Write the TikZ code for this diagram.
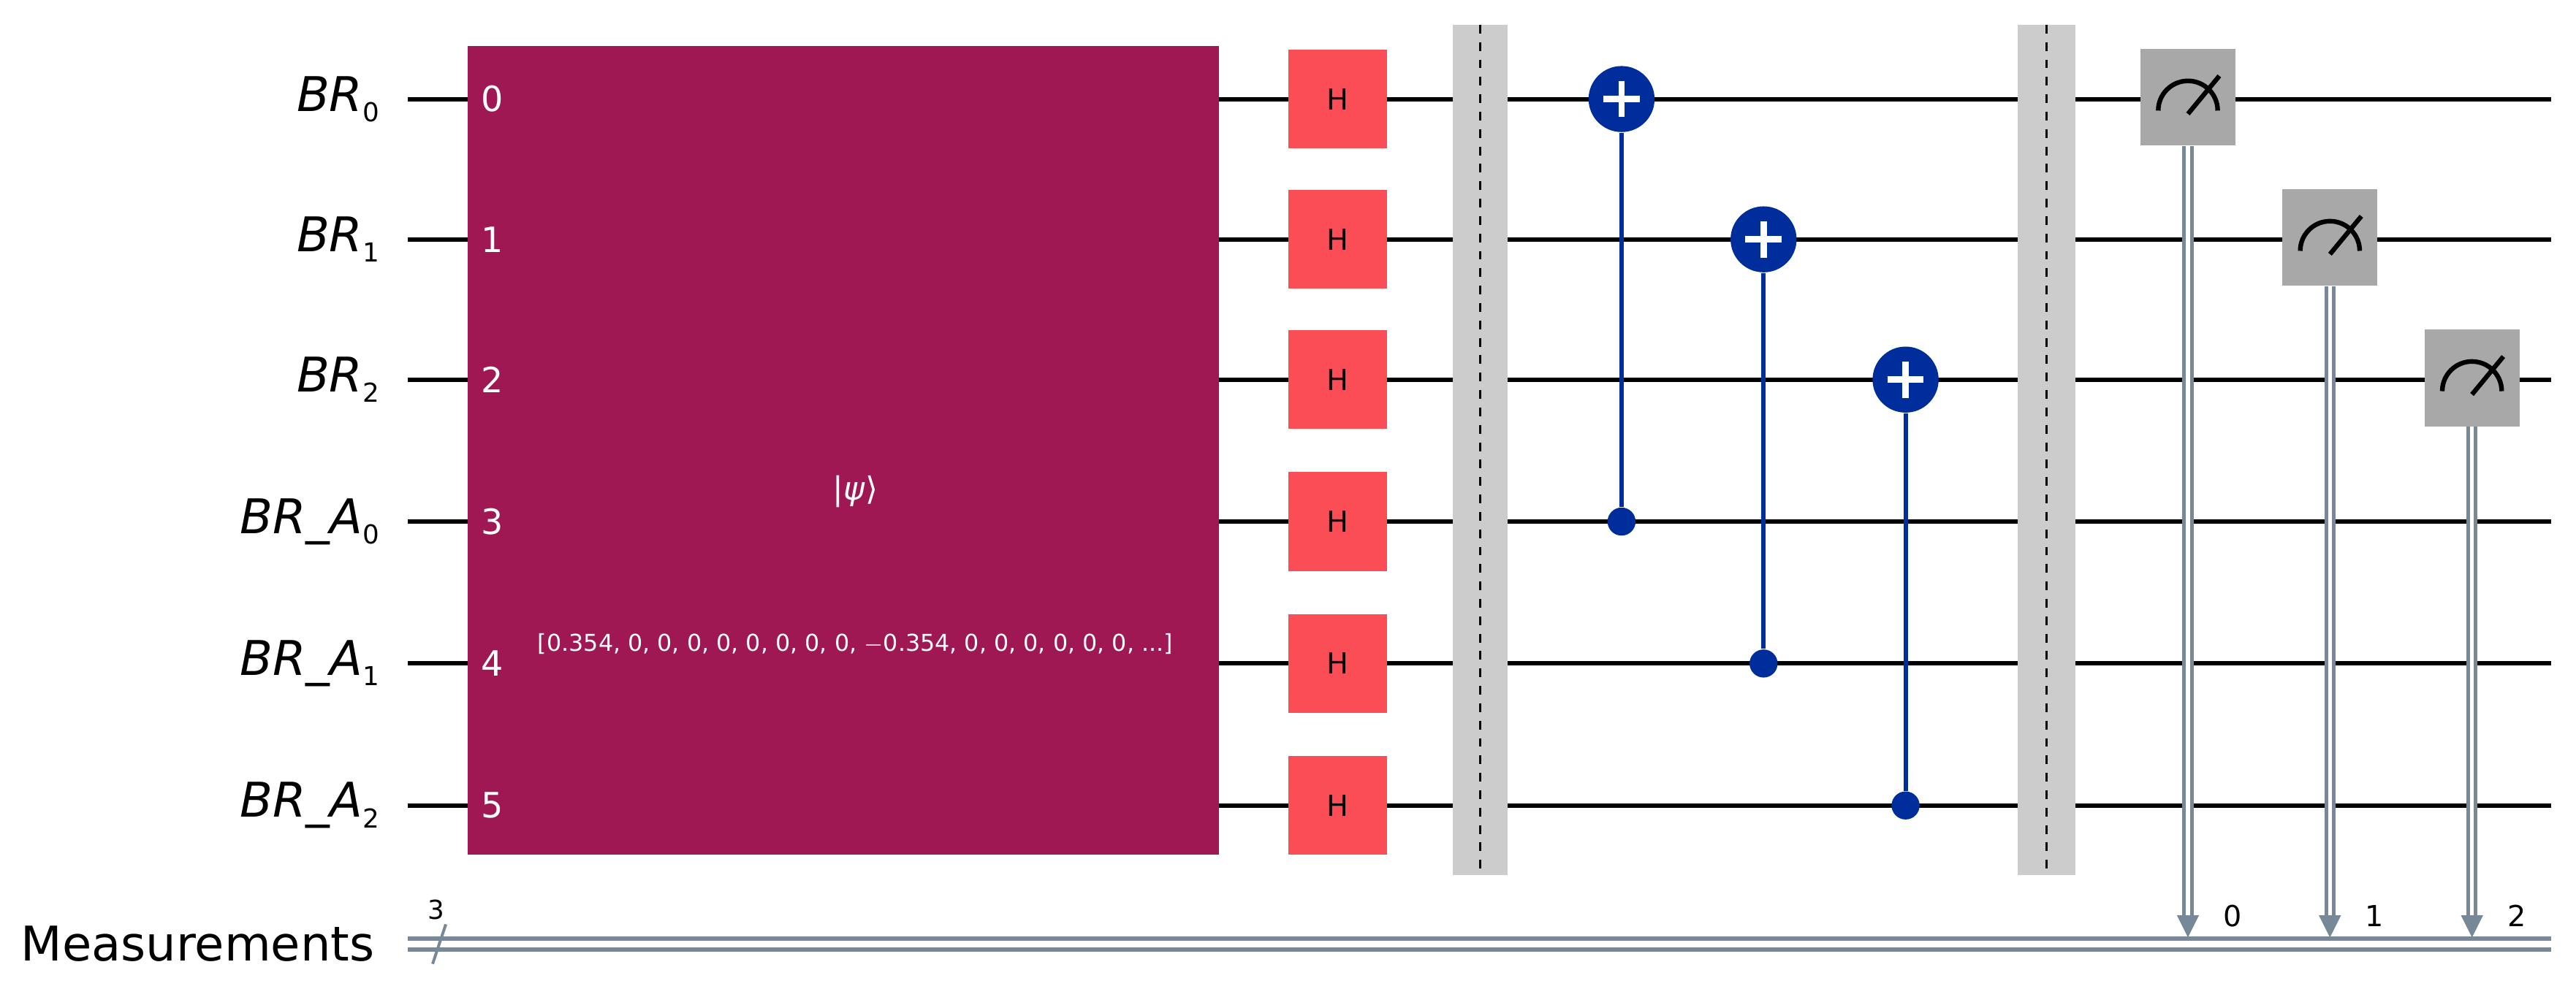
\documentclass[tikz,border=0pt]{standalone}
\usepackage{fontspec}
\setmainfont{DejaVu Sans}
\usetikzlibrary{positioning,calc,arrows.meta}
\definecolor{prepcol}{HTML}{9F1853}
\definecolor{hcol}{HTML}{FA4D56}
\definecolor{cxcol}{HTML}{002D9C}
\definecolor{meascol}{HTML}{A8A8A8}
\definecolor{barcol}{HTML}{CCCCCC}
\definecolor{clcol}{HTML}{778899}
\newcommand{\qlab}[2]{\textit{#1}\raisebox{-0.4ex}{\small #2}}

\begin{document}
\begin{tikzpicture}[x=0.02cm, y=-0.02cm,
  wire/.style={line width=1.5pt, black},
  label/.style={anchor=east, font=\fontsize{16.5}{18}\selectfont},
  hgate/.style={rectangle, fill=hcol, minimum width=1.2cm, minimum height=1.2cm, inner sep=0pt, font=\fontsize{10}{12}\selectfont},
  meas/.style={rectangle, fill=meascol, minimum width=1.15cm, minimum height=1.17cm, inner sep=0pt},
  barrier/.style={fill=barcol, draw=none},
  ctrl/.style={circle, fill=cxcol, minimum size=0.34cm, inner sep=0pt},
  targ/.style={circle, fill=cxcol, minimum size=0.8cm, inner sep=0pt},
  cline/.style={draw=clcol, double=white, double distance=1.3pt, line width=1.3pt},
  bitlab/.style={font=\fontsize{10}{12}\selectfont}]

\useasboundingbox (0,0) rectangle (1560,599);

% WIRES

\foreach \i/\y in {0/60,1/145,2/230,3/316,4/402,5/488} {
  \coordinate (w\i) at (247,\y);
  \coordinate (e\i) at (1545,\y);
  \draw[wire] (w\i) -- (e\i);
}

\node[label] (l0) at (236,60)  {\qlab{BR}{0}};
\node[label] (l1) at (236,145) {\qlab{BR}{1}};
\node[label] (l2) at (236,230) {\qlab{BR}{2}};
\node[label] (l3) at (236,316) {\qlab{BR\_A}{0}};
\node[label] (l4) at (236,402) {\qlab{BR\_A}{1}};
\node[label] (l5) at (236,488) {\qlab{BR\_A}{2}};
\node[label] (lc) at (233,572) {Measurements};

% CLASSICAL REGISTER

\coordinate (cs) at (247,572);
\coordinate (ce) at (1545,572);
\draw[clcol, line width=1.5pt] ($(cs)+(0,-3.3)$) -- ($(ce)+(0,-3.3)$);
\draw[clcol, line width=1.5pt] ($(cs)+(0,3.3)$) -- ($(ce)+(0,3.3)$);
\draw[clcol, line width=1pt] (262,584) -- (270,560);
\node[bitlab, font=\fontsize{9}{10}\selectfont] (three) at (264,551) {3};

% STATE PREPARATION

\node[rectangle, fill=prepcol, minimum width=9.1cm, minimum height=9.8cm, inner sep=0pt] (prep) at (510.5,273) {};
\foreach \i/\y in {0/60,1/145,2/230,3/316,4/402,5/488}
  \node[text=white, font=\fontsize{12}{14}\selectfont] (n\i) at (298,\y) {\i};
\node[text=white, font=\fontsize{11}{13}\selectfont] (psi) at (518,298) {|\textit{ψ}⟩};
\node[text=white, font=\fontsize{8}{10}\selectfont] (vec) at (518,390) {[0.354, 0, 0, 0, 0, 0, 0, 0, 0, $-$0.354, 0, 0, 0, 0, 0, 0, ...]};

% HADAMARDS

\foreach \i/\y in {0/60,1/145,2/230,3/316,4/402,5/488}
  \node[hgate] (h\i) at (810,\y) {H};

% BARRIERS

\draw[barrier] (880,15) rectangle (913,530);
\draw[dashed, line width=0.8pt] (896.5,15) -- (896.5,530);
\draw[barrier] (1222,15) rectangle (1257,530);
\draw[dashed, line width=0.8pt] (1239.5,15) -- (1239.5,530);

% CNOTS

\node[ctrl] (c0) at (982,316) {};
\node[ctrl] (c1) at (1068,402) {};
\node[ctrl] (c2) at (1154,488) {};
\node[targ] (t0) at (982,60) {};
\node[targ] (t1) at (1068,145) {};
\node[targ] (t2) at (1154,230) {};
\foreach \i in {0,1,2} {
  \draw[cxcol, line width=1.5pt] (c\i) -- (t\i);
  \draw[white, line width=2.2pt] ($(t\i)+(-11,0)$) -- ($(t\i)+(11,0)$);
  \draw[white, line width=2.2pt] ($(t\i)+(0,-11)$) -- ($(t\i)+(0,11)$);
}

% MEASUREMENTS

\node[meas] (m0) at (1325,59) {};
\node[meas] (m1) at (1411,144) {};
\node[meas] (m2) at (1497,229) {};
\foreach \i in {0,1,2} {
  \draw[line width=1.6pt] ($(m\i.center)+(-18,8)$) arc[start angle=180, end angle=360, radius=18];
  \draw[line width=1.6pt] ($(m\i.center)+(0,10)$) -- ($(m\i.center)+(19,-13)$);
  \coordinate (a\i) at (m\i.center |- cs);
  \draw[cline] (m\i.south) -- ($(a\i)+(0,-16)$);
  \draw[clcol, line width=0.5pt, fill=clcol] ($(a\i)+(-6,-17)$) -- ($(a\i)+(6,-17)$) -- ($(a\i)+(0,-5)$) -- cycle;
  \node[bitlab] (b\i) at ($(a\i)+(27,-17)$) {\i};
}

\end{tikzpicture}
\end{document}
